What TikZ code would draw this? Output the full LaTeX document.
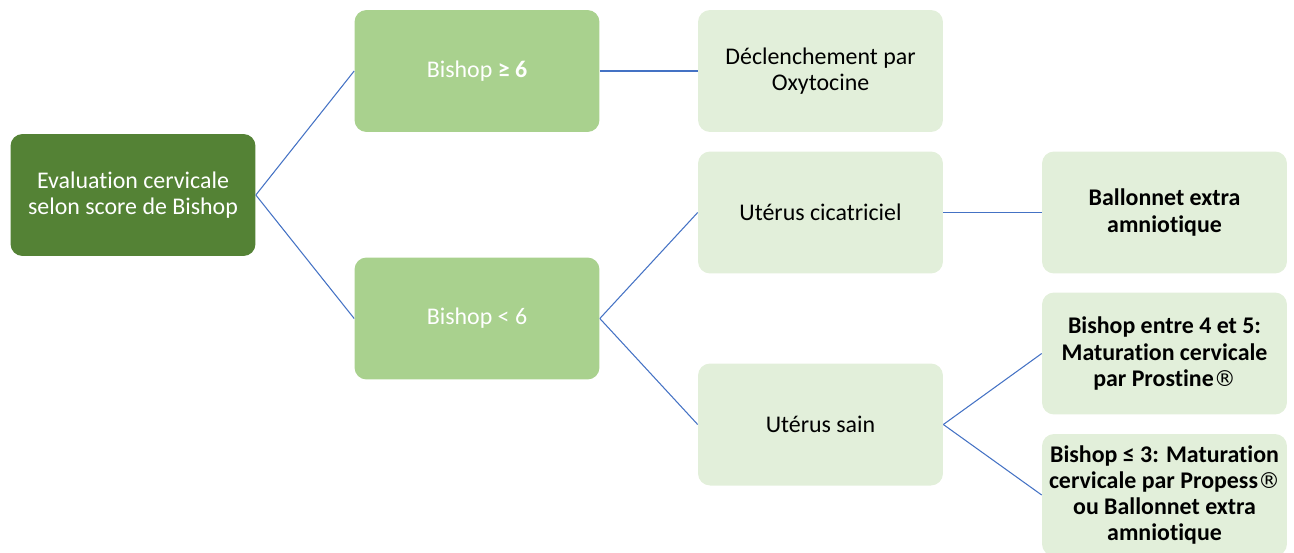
\documentclass[tikz,border=0pt]{standalone}
\usepackage{fontspec}
\setmainfont{Carlito}[Ligatures=NoCommon]
\newfontfamily\symfont{DejaVu Sans}
\usetikzlibrary{calc}
\definecolor{rootgreen}{HTML}{548235}
\definecolor{midgreen}{HTML}{A9D18E}
\definecolor{leafgreen}{HTML}{E2EFDA}
\definecolor{linkblue}{HTML}{4472C4}
\def\reg{{\symfont\mdseries\fontsize{12.5}{14.8}\selectfont ®}}

\begin{document}
\begin{tikzpicture}[x=0.02cm, y=-0.02cm,
	box/.style={rounded corners=0.24cm, minimum width=4.9cm, minimum height=2.44cm, inner sep=0pt, align=center, font=\fontsize{13.6}{14.9}\selectfont},
	rootbox/.style={box, fill=rootgreen, text=white},
	midbox/.style={box, fill=midgreen, text=white},
	leafbox/.style={box, fill=leafgreen, text=black},
	boldleaf/.style={leafbox, font=\fontsize{13.6}{14.9}\selectfont\bfseries},
	link/.style={draw=linkblue, line width=0.6pt}]
			%%%%% START %%%%%
			
			\clip (0, 0) rectangle (1294, 552);
			
			\node[rootbox] (root) at (133, 195) {Evaluation cervicale\\selon score de Bishop};
			
			\node[midbox] (bgeq) at (477, 71) {Bishop \textbf{≥ 6}};
			\node[midbox] (blt) at (477, 318.5) {Bishop < 6};
			
			\node[leafbox] (decl) at (820.5, 71) {Déclenchement par\\Oxytocine};
			\node[leafbox] (cicat) at (820.5, 212.5) {Utérus cicatriciel};
			\node[leafbox] (sain) at (820.5, 424.5) {Utérus sain};
			
			\node[boldleaf] (ballon) at (1164.5, 212.5) {Ballonnet extra\\amniotique};
			\node[boldleaf] (prost) at (1164.5, 353.5) {Bishop entre 4 et 5:\\Maturation cervicale\\par Prostine\reg};
			\node[boldleaf] (propess) at (1164.5, 495) {Bishop ≤ 3: Maturation\\cervicale par Propess\reg\\ou Ballonnet extra\\amniotique};
			
			\draw[link] (root.east) -- (bgeq.west);
			\draw[link] (root.east) -- (blt.west);
			\draw[link] (bgeq.east) -- (decl.west);
			\draw[link] (blt.east) -- (cicat.west);
			\draw[link] (blt.east) -- (sain.west);
			\draw[link] (cicat.east) -- (ballon.west);
			\draw[link] (sain.east) -- (prost.west);
			\draw[link] (sain.east) -- (propess.west);
			
			%%%%% END %%%%%
		\end{tikzpicture}
\end{document}
